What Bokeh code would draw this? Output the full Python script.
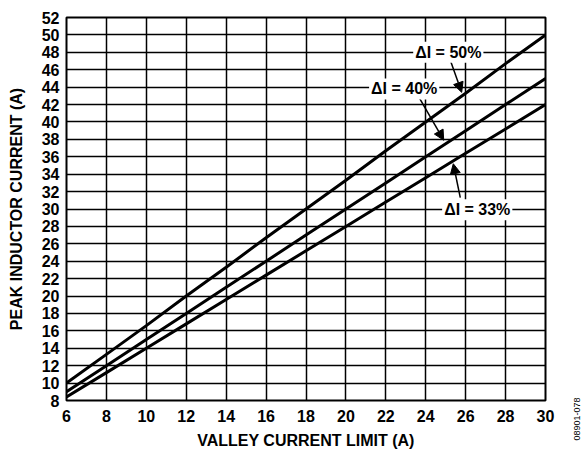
import math
from bokeh.plotting import figure
from bokeh.layouts import row
from bokeh.models import Range1d, FixedTicker, Label, Arrow, NormalHead, Div
from bokeh.embed import file_html
from bokeh.resources import INLINE

valley = [6, 8, 10, 12, 14, 16, 18, 20, 22, 24, 26, 28, 30]
peak_50 = [10.0, 13.3, 16.6, 20.0, 23.3, 26.7, 30.0, 33.3, 36.7, 40.0, 43.3, 46.7, 50.0]
peak_40 = [9.0, 12.0, 15.0, 18.0, 21.0, 24.0, 27.0, 30.0, 33.0, 36.0, 39.0, 42.0, 45.0]
peak_33 = [8.4, 11.2, 14.0, 16.8, 19.6, 22.4, 25.2, 28.0, 30.8, 33.6, 36.4, 39.2, 42.0]
x_ticks = list(range(6, 31, 2))
y_ticks = list(range(8, 53, 2))
labels = ["ΔI = 50%", "ΔI = 40%", "ΔI = 33%"]
footnote = "08901-078"

FONT = "Liberation Sans"

p = figure(width=570, height=450, output_backend="svg", toolbar_location=None,
           x_range=Range1d(6, 30), y_range=Range1d(8, 52),
           frame_width=479, frame_height=383,
           min_border_left=66, min_border_right=25, min_border_top=17, min_border_bottom=50)

p.outline_line_color = "black"
p.outline_line_width = 2
p.outline_line_alpha = 1

for ax in (p.xaxis[0], p.yaxis[0]):
    ax.major_tick_in = 0
    ax.major_tick_out = 0
    ax.minor_tick_in = 0
    ax.minor_tick_out = 0
    ax.axis_line_color = None
    ax.major_label_text_font = FONT
    ax.major_label_text_font_style = "bold"
    ax.major_label_text_font_size = "16px"
    ax.major_label_text_color = "black"
    ax.axis_label_text_font = FONT
    ax.axis_label_text_font_style = "bold"
    ax.axis_label_text_font_size = "16px"
    ax.axis_label_text_color = "black"

p.xaxis.ticker = FixedTicker(ticks=x_ticks)
p.yaxis.ticker = FixedTicker(ticks=y_ticks)
p.xaxis.axis_label = "VALLEY CURRENT LIMIT (A)"
p.yaxis.axis_label = "PEAK INDUCTOR CURRENT (A)"
p.xaxis.major_label_standoff = 9
p.yaxis.major_label_standoff = 7
p.xaxis.axis_label_standoff = 7
p.yaxis.axis_label_standoff = 14

for g in (p.xgrid[0], p.ygrid[0]):
    g.grid_line_color = "black"
    g.grid_line_width = 1.5
    g.grid_line_alpha = 1
p.xgrid.ticker = FixedTicker(ticks=x_ticks)
p.ygrid.ticker = FixedTicker(ticks=y_ticks)

for ys in (peak_50, peak_40, peak_33):
    p.line(valley, ys, line_color="black", line_width=3)

# arrows
arrows = [((25.23, 47.1), (25.8, 43.4)),
          ((23.67, 42.8), (24.9, 37.9)),
          ((25.73, 31.3), (25.38, 35.2))]
for (x0, y0), (x1, y1) in arrows:
    p.add_layout(Arrow(x_start=x0, y_start=y0, x_end=x1, y_end=y1,
                       line_color="black", line_width=1.5,
                       end=NormalHead(size=10, fill_color="black", line_color="black")))

label_pos = [(25.13, 48.0), (22.92, 43.8), (26.58, 29.9)]
for txt, (lx, ly) in zip(labels, label_pos):
    p.add_layout(Label(x=lx, y=ly, text=txt, text_align="center", text_baseline="middle",
                       text_font=FONT, text_font_style="bold", text_font_size="16px",
                       text_color="black", background_fill_color="white",
                       padding=2))

# narrow side strip holding the vertical figure code
q = Div(width=11, height=450,
        text=('<div style="position:absolute; left:2px; top:414px; '
              'transform:translate(-50%,-50%) rotate(-90deg); white-space:nowrap; '
              "font-family:'Liberation Sans'; font-size:9px; color:black; line-height:9px;\">"
              + footnote + '</div>'),
        styles={"overflow": "visible"})

page = row(p, q, spacing=0)
open("out.html", "w").write(file_html(page, INLINE))
